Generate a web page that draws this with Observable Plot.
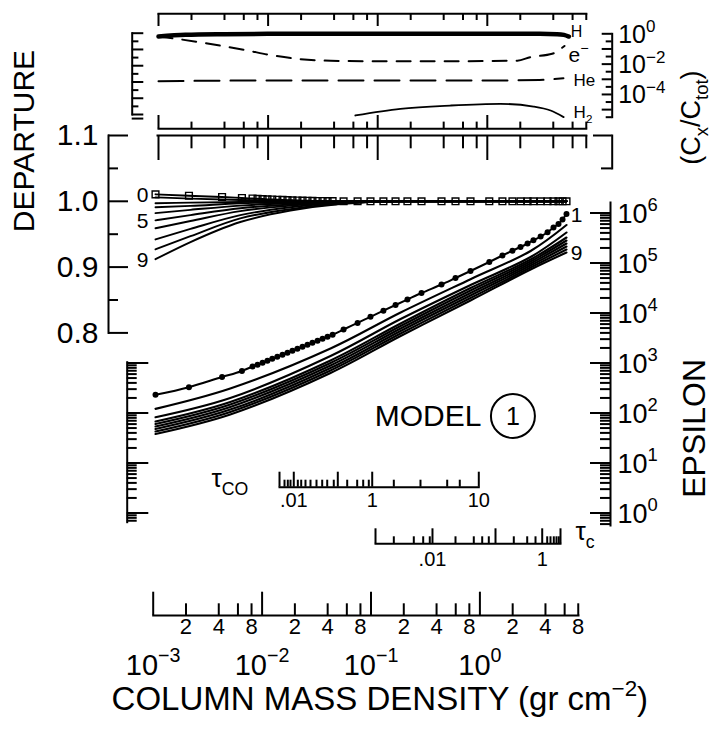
<!DOCTYPE html>
<html><head><meta charset="utf-8">
<script src="https://cdn.jsdelivr.net/npm/d3@7"></script>
<script src="https://cdn.jsdelivr.net/npm/@observablehq/plot@0.6"></script>
<style>
body{margin:0;background:#fff;}
#chart{position:relative;width:712px;height:731px;overflow:hidden;background:#fff;}
</style></head><body><div id="chart"></div>
<script>
// ---------------- data ----------------
// model depth grid (column mass, gr cm^-2) where markers are drawn
const massGrid = [0.00105,0.00213,0.00429,0.00653,0.00817,0.00908,0.0101,0.0112,0.0124,0.0138,0.0154,0.0171,0.0190,0.0211,0.0235,0.0261,0.0290,0.0323,0.0359,0.0399,0.0444,0.0560,0.0753,0.0989,0.130,0.168,0.216,0.291,0.444,0.597,0.820,1.22,1.61,1.99,2.36,2.74,3.10,3.61,4.18,4.74,5.27,5.74,6.24];
// epsilon, curve 1 (dots)
const eps1 = [231,328,525,692,851,925,1014,1112,1219,1337,1466,1607,1762,1932,2118,2323,2547,2793,3062,3357,3681,4677,6339,8395,11120,14450,18620,25120,37150,50120,69180,104700,141300,176600,208900,245500,284400,338800,412100,512900,602600,741300,955000];
// departure, curve 0 (squares)
const dep0 = [1.0106,1.0085,1.0065,1.005,1.0042,1.0038,1.0034,1.003,1.0027,1.0024,1.0021,1.0018,1.0015,1.0012,1.001,1.0008,1.0006,1.0005,1.0004,1.0003,1.0002,1,1,1,1,1,1,1,1,1,1,1,1,1,1,1,1,1,1,1,1,1,1];

// epsilon curves 2..9
const massEps = [0.00105,0.0051,0.0425,0.187,0.82,2.92,6.24];
const eps2 = [121,309,1950,10230,47420,173800,575400];
const eps3 = [82.4,200,1380,7586,36310,131800,407400];
const eps4 = [67.6,166,1122,6166,31620,117500,323600];
const eps5 = [60.3,148,1000,5495,28180,107200,281800];
const eps6 = [53.7,132,891,4898,25120,97720,245500];
const eps7 = [47.9,117,794,4365,22390,89130,213800];
const eps8 = [42.7,105,708,3890,19950,81280,186200];
const eps9 = [38.0,93.3,631,3467,17780,74130,162200];

// departure curves 1..9
const massDep = [0.00105,0.0022,0.0063,0.0182,0.052,0.187,6.24];
const dep1 = [1.006,1.004,1.002,1.001,1.0,1.0,1.0];
const dep2 = [0.997,0.998,0.999,0.9995,1.0,1.0,1.0];
const dep3 = [0.991,0.993,0.997,0.9985,0.9996,1.0,1.0];
const dep4 = [0.982,0.987,0.9935,0.997,0.999,1.0,1.0];
const dep5 = [0.971,0.979,0.9895,0.995,0.9987,1.0,1.0];
const dep6 = [0.959,0.970,0.985,0.9935,0.998,1.0,1.0];
const dep7 = [0.942,0.958,0.979,0.991,0.9974,1.0,1.0];
const dep8 = [0.927,0.947,0.974,0.988,0.9967,1.0,1.0];
const dep9 = [0.912,0.938,0.9685,0.986,0.996,1.0,1.0];

// abundances (C_x / C_tot)
const massH = [0.001,0.00176,0.004,0.01,0.1,3.0,4.34,5.0,5.55];
const fracH = [0.66,0.86,0.95,0.99,0.99,0.99,0.95,0.85,0.66];
const massE = [0.001,0.00139,0.00245,0.00646,0.0105,0.0174,0.0302,0.0525,0.0851,0.46,1.88,2.48,3.91,4.66,5.06];
const fracE = [0.66,0.49,0.267,0.079,0.040,0.0235,0.0174,0.0161,0.0156,0.0156,0.0170,0.029,0.048,0.10,0.157];
const massHe = [0.001,0.01,0.1,1,3,4.95];
const fracHe = [7.5e-4,8.3e-4,8.3e-4,8.3e-4,9.0e-4,1.18e-3];
const massH2 = [0.0625,0.161,0.461,1.32,2.64,3.78,4.97];
const fracH2 = [4.1e-6,1.12e-5,1.86e-5,2.4e-5,1.6e-5,8.7e-6,3.2e-6];

// tick values / labels
const massDecades = [1e-3,1e-2,1e-1,1];
const decadeLabels = ["10^{\u22123}","10^{\u22122}","10^{\u22121}","10^{0}"];
const massMinor = [0.002,0.004,0.006,0.008,0.02,0.04,0.06,0.08,0.2,0.4,0.6,0.8,2,4,6,8];
const minorLabelMult = [2,4,8];
const depMajor = [0.8,0.9,1.0,1.1];
const depMinor = [0.85,0.95,1.05];
const depLabels = ["0.8","0.9","1.0","1.1"];
const epsMajor = [1,10,100,1e3,1e4,1e5,1e6];
const epsLabels = ["10^{0}","10^{1}","10^{2}","10^{3}","10^{4}","10^{5}","10^{6}"];
const fracLabelVals = [1,1e-2,1e-4];
const fracLabels = ["10^{0}","10^{\u22122}","10^{\u22124}"];
const tauCOMajor = [0.01445,0.01954,0.04956,0.1026,0.977];
const tauCOMinor = [0.01606,0.01722,0.01823,0.02128,0.02286,0.02503,0.02782,0.03159,0.03563,0.03962,0.04552,0.06046,0.07467,0.0848,0.09546,0.162,0.2847,0.5008,0.6535];
const tauCOLabelVals = [0.01954,0.1026,0.977];
const tauCOLabels = [".01","1","10"];
const tauCMajor = [0.11,0.3669,1.391,3.734,5.497];
const tauCMinor = [0.162,0.2472,0.3015,0.3466,0.597,0.8789,1.05,1.207,2.048,2.719,3.241,4.15,4.449,4.771,5.05,5.303];
const tauCLabelVals = [0.3669,3.734];
const tauCLabels = [".01","1"];
const modelNote = [{m: 0.334, eps: 87, text: "MODEL"}];
const modelCircle = [{m: 2.01, eps: 87, text: "1"}];

// ---------------- layout ----------------
const W = 712, H = 731, SW = 2;
const FONT = "'Liberation Sans', Arial, Helvetica, sans-serif";
const xMain = {type: "log", domain: [1e-3, 10], range: [152.7, 588.3]};
const xTop = {type: "log", domain: [1e-3, 10], range: [158, 596.4]};
const yFrac = {type: "log", domain: [Math.pow(10, -5.5), 1], range: [116.7, 33.3]};
const yFracL = {type: "log", domain: [1e-5, 1], range: [114, 32.7]};
const yDep = {type: "linear", domain: [0.8, 1.1], range: [332.4, 135]};
const yEps = {type: "log", domain: [1, 1e6], range: [512.5, 212.5]};

function plotBase(o) {
  return Plot.plot(Object.assign({
    width: W, height: H,
    style: "position:absolute;left:0;top:0;background:transparent;overflow:visible;color:#000;font-family:" + FONT + ";"
  }, o));
}
function hAxis(o) {
  const up = o.dir === "up";
  const top = up ? o.y - o.majorLen : o.y;
  const bottom = up ? o.y : o.y + o.majorLen;
  const marks = [
    Plot.frame({anchor: up ? "bottom" : "top", strokeWidth: SW}),
    Plot.tickX(o.major, {x: d => d, strokeWidth: SW}),
    Plot.tickX(o.minor, {x: d => d, strokeWidth: SW, [up ? "insetTop" : "insetBottom"]: o.majorLen - o.minorLen}),
    ...(o.marks || [])
  ];
  return plotBase({marginLeft: o.left, marginRight: W - o.right, marginTop: top, marginBottom: H - bottom,
    x: Object.assign({}, o.x, {axis: null}), marks});
}
function vAxis(o) {
  const L = o.side === "left";
  const left = L ? o.x : o.x - o.majorLen;
  const right = L ? o.x + o.majorLen : o.x;
  const marks = [
    Plot.frame({anchor: L ? "left" : "right", strokeWidth: SW}),
    Plot.tickY(o.major, {y: d => d, strokeWidth: SW}),
    Plot.tickY(o.minor, {y: d => d, strokeWidth: SW, [L ? "insetRight" : "insetLeft"]: o.majorLen - o.minorLen}),
    ...(o.marks || [])
  ];
  return plotBase({marginLeft: left, marginRight: W - right, marginTop: o.top, marginBottom: H - o.bottom,
    y: Object.assign({}, o.y, {axis: null}), marks});
}

// derived tick sets
const fracDec = [], fracHalf = [];
for (let k = 0; k <= 5; k++) fracDec.push(Math.pow(10, -k));
for (let k = 0; k <= 5; k++) fracHalf.push(Math.pow(10, -k - 0.5));
const epsMinorR = [0.6,0.7,0.8,0.9], epsMinorL = [0.7,0.8,0.9];
for (let d = 0; d <= 5; d++) for (let k = 2; k <= 9; k++) { epsMinorR.push(k * Math.pow(10, d)); if (d <= 2) epsMinorL.push(k * Math.pow(10, d)); }
const bottomLabelData = massDecades.flatMap(d => minorLabelMult.map(k => ({v: k * d, t: String(k)})));
const decadeLabelData = massDecades.map((v, i) => ({v, t: decadeLabels[i]}));

const tidy = (masses, series) => series.flatMap((vals, i) => vals.map((v, j) => ({curve: i, m: masses[j], v})));
const epsData = tidy(massEps, [eps2, eps3, eps4, eps5, eps6, eps7, eps8, eps9]);
const eps1Data = massGrid.map((m, i) => ({m, v: eps1[i]}));
const depData = tidy(massDep, [dep1, dep2, dep3, dep4, dep5, dep6, dep7, dep8, dep9]);
const dep0Data = massGrid.map((m, i) => ({m, v: dep0[i]}));
const pts = (ms, fs) => ms.map((m, i) => ({m, v: fs[i]}));
const hData = pts(massH, fracH), eData = pts(massE, fracE), heData = pts(massHe, fracHe), h2Data = pts(massH2, fracH2);
const last = a => [a[a.length - 1]];

const plots = [];
// ---- top panel (abundances) ----
plots.push(hAxis({x: xTop, y: 13.3, dir: "down", left: 158, right: 585.8, majorLen: 12.7, minorLen: 6.7, major: massDecades, minor: massMinor}));
plots.push(hAxis({x: xTop, y: 128.3, dir: "up", left: 158, right: 585.8, majorLen: 13.3, minorLen: 6.7, major: massDecades, minor: massMinor}));
plots.push(vAxis({y: yFracL, x: 131.7, side: "left", top: 32.7, bottom: 114, majorLen: 11.6, minorLen: 6.7,
  major: fracDec.concat([Math.pow(10, -5.25)]), minor: fracHalf.slice(0, 5)}));
plots.push(vAxis({y: yFrac, x: 611.7, side: "right", top: 33.3, bottom: 116.7, majorLen: 10, minorLen: 6,
  major: fracDec, minor: fracHalf, marks: [
    Plot.text(fracLabelVals.map((v, i) => ({v, t: fracLabels[i]})), {y: "v", text: "t", frameAnchor: "right", dx: 6, dy: 1, textAnchor: "start", fontSize: 25}),
    Plot.text(["(C_{x}/C_{tot})"], {text: d => d, frameAnchor: "right", dx: 79, dy: -5, rotate: -90, fontSize: 27})
  ]}));
plots.push(plotBase({margin: 0, x: Object.assign({}, xTop, {axis: null}), y: Object.assign({}, yFrac, {axis: null}), marks: [
  Plot.line(heData, {x: "m", y: "v", curve: "monotone-x", strokeWidth: 2, strokeDasharray: "25,11"}),
  Plot.line(h2Data, {x: "m", y: "v", curve: "monotone-x", strokeWidth: 1.8}),
  Plot.line(eData, {x: "m", y: "v", curve: "monotone-x", strokeWidth: 2, strokeDasharray: "14,10"}),
  Plot.line(hData, {x: "m", y: "v", curve: "monotone-x", strokeWidth: 4.5}),
  Plot.text(last(hData), {x: "m", y: "v", text: () => "H", dx: 2, dy: -5, textAnchor: "start", fontSize: 16}),
  Plot.text(last(eData), {x: "m", y: "v", text: () => "e^{\u2212}", dx: 4, dy: 9, textAnchor: "start", fontSize: 21}),
  Plot.text(last(heData), {x: "m", y: "v", text: () => "He", dx: 10, dy: 2, textAnchor: "start", fontSize: 17}),
  Plot.text(last(h2Data), {x: "m", y: "v", text: () => "H_{2}", dx: 10, dy: -5, textAnchor: "start", fontSize: 17})
]}));

// ---- departure panel ----
plots.push(hAxis({x: xTop, y: 135, dir: "down", left: 157, right: 585.8, majorLen: 25, minorLen: 13.3, major: massDecades, minor: massMinor}));
plots.push(vAxis({y: yDep, x: 108, side: "left", top: 135, bottom: 332.4, majorLen: 20, minorLen: 10, major: depMajor, minor: depMinor, marks: [
  Plot.text(depMajor.map((v, i) => ({v, t: depLabels[i]})), {y: "v", text: "t", frameAnchor: "left", dx: -10, textAnchor: "end", fontSize: 30}),
  Plot.text(["DEPARTURE"], {text: d => d, frameAnchor: "left", dx: -84, dy: -2, rotate: -90, fontSize: 30})
]}));
plots.push(vAxis({y: yDep, x: 611.7, side: "right", top: 135, bottom: 168, majorLen: 18.7, minorLen: 10.7, major: [1.1], minor: [1.05]}));
plots.push(plotBase({margin: 0, x: Object.assign({}, xMain, {axis: null}), y: Object.assign({}, yDep, {axis: null}), marks: [
  Plot.line(depData, {x: "m", y: "v", z: "curve", curve: "monotone-x", strokeWidth: 1.9}),
  Plot.line(dep0Data, {x: "m", y: "v", curve: "monotone-x", strokeWidth: 1.9}),
  Plot.dot(dep0Data, {x: "m", y: "v", symbol: "square", r: 3.8, stroke: "black", strokeWidth: 1.4, fill: "none"}),
  Plot.text([dep0Data[0], {m: massDep[0], v: dep5[0]}, {m: massDep[0], v: dep9[0]}], {x: "m", y: "v", text: (d, i) => ["0", "5", "9"][i], dx: -13, dy: 1, fontSize: 21})
]}));

// ---- epsilon panel ----
plots.push(vAxis({y: yEps, x: 126.7, side: "left", top: 361.7, bottom: 521.7, majorLen: 21.6, minorLen: 10, major: [1, 10, 100, 1000], minor: epsMinorL}));
plots.push(vAxis({y: yEps, x: 610, side: "right", top: 202, bottom: 525, majorLen: 20, minorLen: 10, major: epsMajor, minor: epsMinorR, marks: [
  Plot.text(epsMajor.map((v, i) => ({v, t: epsLabels[i]})), {y: "v", text: "t", frameAnchor: "right", dx: 7, dy: 1, textAnchor: "start", fontSize: 27}),
  Plot.text(["EPSILON"], {text: d => d, frameAnchor: "right", dx: 84, dy: -5, rotate: -90, fontSize: 32})
]}));
plots.push(plotBase({margin: 0, x: Object.assign({}, xMain, {axis: null}), y: Object.assign({}, yEps, {axis: null}), marks: [
  Plot.line(epsData, {x: "m", y: "v", z: "curve", curve: "catmull-rom", strokeWidth: 2.1}),
  Plot.line(eps1Data, {x: "m", y: "v", curve: "monotone-x", strokeWidth: 2}),
  Plot.dot(eps1Data, {x: "m", y: "v", r: 3, fill: "black"}),
  Plot.text([eps1Data[eps1Data.length - 1], {m: massEps[6], v: eps9[6]}], {x: "m", y: "v", text: (d, i) => ["1", "9"][i], dx: 10, dy: 1, fontSize: 21}),
  Plot.text(modelNote, {x: "m", y: "eps", text: "text", fontSize: 30}),
  Plot.dot(modelCircle, {x: "m", y: "eps", r: 22, stroke: "black", strokeWidth: 2, fill: "none"}),
  Plot.text(modelCircle, {x: "m", y: "eps", text: "text", fontSize: 25, dy: 1})
]}));

// ---- optical depth axes ----
plots.push(hAxis({x: xMain, y: 486.7, dir: "up", left: 279, right: 478.3, majorLen: 15, minorLen: 7, major: tauCOMajor, minor: tauCOMinor, marks: [
  Plot.text(tauCOLabelVals.map((v, i) => ({v, t: tauCOLabels[i]})), {x: "v", text: "t", frameAnchor: "bottom", dy: 20, fontSize: 20}),
  Plot.text(["\u03c4_{CO}"], {text: d => d, frameAnchor: "bottom-left", dx: -68, dy: 0, textAnchor: "start", fontSize: 26})
]}));
plots.push(hAxis({x: xMain, y: 543.3, dir: "up", left: 375, right: 560, majorLen: 15, minorLen: 7, major: tauCMajor, minor: tauCMinor, marks: [
  Plot.text(tauCLabelVals.map((v, i) => ({v, t: tauCLabels[i]})), {x: "v", text: "t", frameAnchor: "bottom", dy: 22, fontSize: 20}),
  Plot.text(["\u03c4_{c}"], {text: d => d, frameAnchor: "bottom-right", dx: 15, dy: -4, textAnchor: "start", fontSize: 26})
]}));

// ---- column mass axis ----
plots.push(hAxis({x: xMain, y: 615, dir: "up", left: 152.7, right: 578, majorLen: 23.3, minorLen: 11.7, major: massDecades, minor: massMinor, marks: [
  Plot.text(bottomLabelData, {x: "v", text: "t", frameAnchor: "bottom", dy: 18, fontSize: 22}),
  Plot.text(decadeLabelData, {x: "v", text: "t", frameAnchor: "bottom", dy: 59, fontSize: 29}),
  Plot.text(["COLUMN MASS DENSITY (gr cm^{\u22122})"], {text: d => d, frameAnchor: "bottom", dx: 14, dy: 94, fontSize: 33})
]}));

// ---------------- render ----------------
const chart = document.getElementById("chart");
plots.forEach(svg => chart.appendChild(svg));

function richify(svg) {
  const NS = "http://www.w3.org/2000/svg";
  svg.querySelectorAll("text").forEach(t => {
    const s = t.textContent;
    if (!/[\^_]\{/.test(s)) return;
    const fs = parseFloat(getComputedStyle(t).fontSize) || 16;
    const parts = [];
    const re = /([\^_])\{([^}]*)\}/g;
    let lastI = 0, m;
    while ((m = re.exec(s))) {
      if (m.index > lastI) parts.push({k: "n", s: s.slice(lastI, m.index)});
      parts.push({k: m[1] === "^" ? "sup" : "sub", s: m[2]});
      lastI = re.lastIndex;
    }
    if (lastI < s.length) parts.push({k: "n", s: s.slice(lastI)});
    while (t.firstChild) t.removeChild(t.firstChild);
    let shift = 0;
    parts.forEach((p, i) => {
      const target = p.k === "sup" ? -0.42 * fs : p.k === "sub" ? 0.3 * fs : 0;
      const dy = target - shift;
      if (i === 0 && p.k === "n") t.appendChild(document.createTextNode(p.s));
      else {
        const sp = document.createElementNS(NS, "tspan");
        if (dy) sp.setAttribute("dy", dy.toFixed(2));
        if (p.k !== "n") sp.setAttribute("font-size", (0.68 * fs).toFixed(1));
        sp.textContent = p.s;
        t.appendChild(sp);
      }
      shift = target;
    });
  });
}
plots.forEach(richify);
</script></body></html>
